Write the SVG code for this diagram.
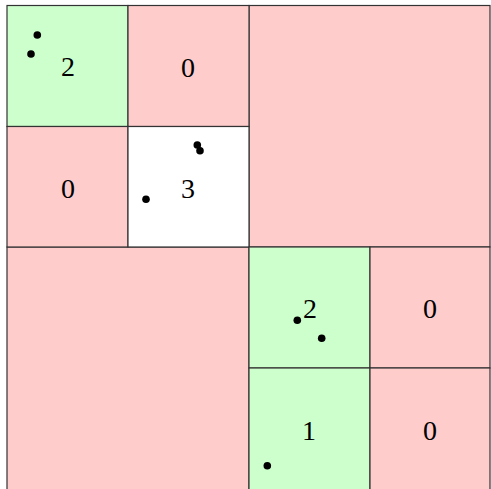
<svg xmlns="http://www.w3.org/2000/svg" width="491" height="489" viewBox="0 0 491 489">
<style>
.r{fill:#ffcccc;stroke:#333;stroke-width:1.2}
.g{fill:#ccffcc;stroke:#333;stroke-width:1.2}
.w{fill:#ffffff;stroke:#333;stroke-width:1.2}
.t{font-family:"Liberation Serif","DejaVu Serif",serif;font-size:28px;text-anchor:middle;fill:#000}
.d{fill:#000}
</style>
<rect x="0" y="0" width="491" height="489" fill="#fff"/>
<g id="q-tr"><rect class="r" x="249" y="5.5" width="241" height="241.5"/></g>
<g id="q-bl"><rect class="r" x="7" y="247" width="242" height="250"/></g>
<g id="c00"><rect class="g" x="7" y="5.5" width="121" height="121"/><text class="t" x="68" y="76">2</text></g>
<g id="c01"><rect class="r" x="128" y="5.5" width="121" height="121"/><text class="t" x="188" y="77">0</text></g>
<g id="c10"><rect class="r" x="7" y="126.5" width="121" height="120.5"/><text class="t" x="68" y="198">0</text></g>
<g id="c11"><rect class="w" x="128" y="126.5" width="121" height="120.5"/><text class="t" x="188" y="198">3</text></g>
<g id="c22"><rect class="g" x="249" y="247" width="121" height="121"/><text class="t" x="310" y="318">2</text></g>
<g id="c23"><rect class="r" x="370" y="247" width="120" height="121"/><text class="t" x="430" y="318">0</text></g>
<g id="c32"><rect class="g" x="249" y="368" width="121" height="130"/><text class="t" x="309" y="440">1</text></g>
<g id="c33"><rect class="r" x="370" y="368" width="120" height="130"/><text class="t" x="430" y="440">0</text></g>
<g id="points">
<circle class="d" cx="37.3" cy="35" r="3.8"/>
<circle class="d" cx="31" cy="54" r="3.8"/>
<circle class="d" cx="197.3" cy="145" r="3.8"/>
<circle class="d" cx="200" cy="150.7" r="3.8"/>
<circle class="d" cx="146" cy="199.3" r="3.8"/>
<circle class="d" cx="297.3" cy="320.3" r="3.8"/>
<circle class="d" cx="321.7" cy="338.3" r="3.8"/>
<circle class="d" cx="267.3" cy="465.7" r="3.8"/>
</g>
</svg>
